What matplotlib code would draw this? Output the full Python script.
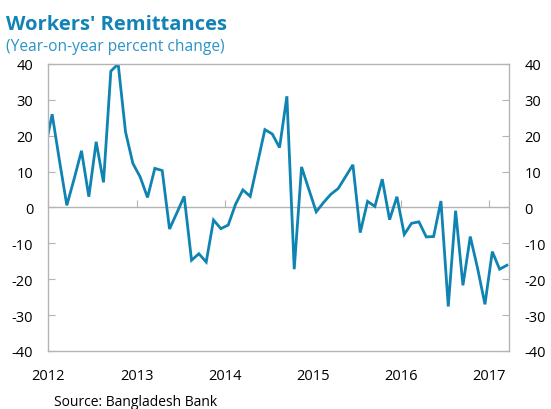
import pandas as pd
import matplotlib.pyplot as plt

plt.rcParams['font.family'] = ['Open Sans', 'DejaVu Sans']
plt.rcParams['axes.unicode_minus'] = False

# monthly y/y % change, Dec 2011 .. Mar 2017 (Dec 2011 only shows as the clipped start)
months = pd.date_range("2011-12-01", "2017-03-01", freq="MS")
remit = [16.0,
         26.0, 13.0, 0.6, 8.0, 15.8, 3.0, 18.3, 7.0, 38.0, 40.0, 21.1, 12.3,
         8.5, 2.8, 10.9, 10.3, -6.0, -1.5, 3.1, -14.7, -12.9, -15.2, -3.5, -5.9,
         -4.9, 0.9, 4.9, 3.1, 12.4, 21.7, 20.5, 16.7, 31.0, -17.2, 11.3, 5.0,
         -1.2, 1.4, 3.7, 5.3, 8.6, 11.9, -7.0, 1.7, 0.3, 7.9, -3.4, 3.0,
         -7.5, -4.4, -4.0, -8.2, -8.1, 1.8, -27.6, -0.9, -21.7, -8.1, -17.0, -27.0,
         -12.3, -17.2, -16.1]
years = [2012, 2013, 2014, 2015, 2016, 2017]
yticks = [-40, -30, -20, -10, 0, 10, 20, 30, 40]

# plot each month at mid-month
xpos = months.year + (months.month - 0.5) / 12

LINE = "#0f83b2"
GRID = "#b4b4b4"

fig = plt.figure(figsize=(5.51, 4.10), dpi=100)
ax = fig.add_axes([0.088, 0.1415, 0.836, 0.70])

ax.plot(xpos, remit, color=LINE, lw=2.0, solid_joinstyle="miter", clip_on=True)
ax.axhline(0, color=GRID, lw=1.0, zorder=1)

ax.set_xlim(2012, 2017.233)
ax.set_ylim(-40, 40)

for s in ax.spines.values():
    s.set_color(GRID)
    s.set_linewidth(1.0)

ax.set_yticks(yticks)
ax.set_yticklabels([str(v) for v in yticks])
ax.tick_params(axis="y", direction="in", length=5, color=GRID, labelsize=10.5,
               pad=11, left=True, right=True, labelleft=True, labelright=True)

ax.set_xticks(years)
ax.set_xticklabels([str(y) for y in years])
ax.tick_params(axis="x", length=0, labelsize=10.5, pad=12)

# year ticks sit on the zero line, pointing up
zero_ax = ax.secondary_xaxis(0.5)
zero_ax.set_xticks(years)
zero_ax.set_xticklabels([])
zero_ax.tick_params(direction="out", length=5, color=GRID)
for s in zero_ax.spines.values():
    s.set_visible(False)

fig.text(6 / 551, 1 - 30 / 410, "Workers' Remittances", fontsize=14.5,
         fontweight="bold", color="#1383b5", va="baseline")
fig.text(6 / 551, 1 - 51 / 410, "(Year-on-year percent change)", fontsize=11.2,
         color="#2a93c8", va="baseline")
fig.text(54 / 551, 1 - 406 / 410, "Source: Bangladesh Bank", fontsize=10,
         color="black", va="baseline")

fig.savefig("out.png", dpi=100)
